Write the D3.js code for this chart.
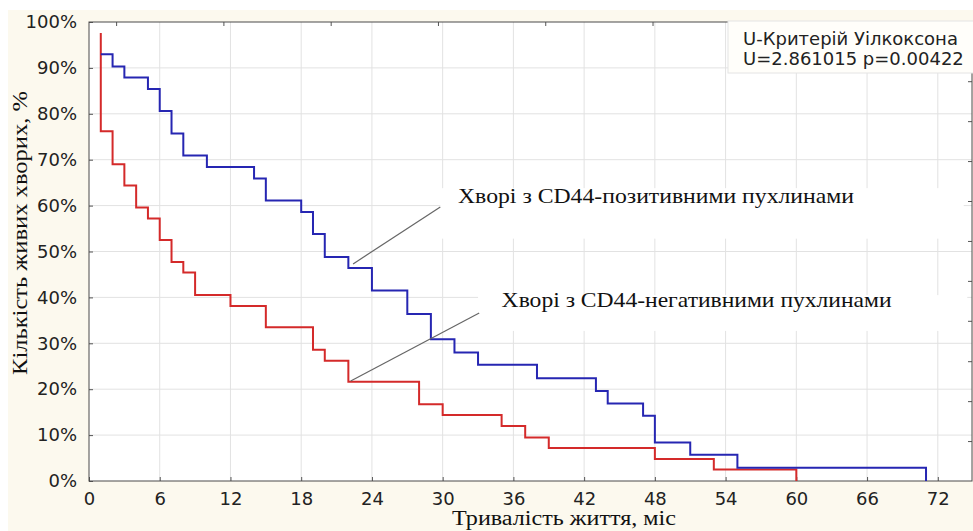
<!DOCTYPE html>
<html>
<head>
<meta charset="utf-8">
<script src="https://cdn.jsdelivr.net/npm/d3@7"></script>
<style>
  body { margin: 0; background: #ffffff; }
  svg { display: block; }
</style>
</head>
<body>
<div id="chart"></div>
<script>
// Kaplan-Meier style survival curves (months, % alive)
const posMonths = [1, 2, 3, 5, 6, 7, 8, 10, 14, 15, 18, 19, 20, 22, 24, 27, 29, 31, 33, 38, 43, 44, 47, 48, 51, 55, 71]
const posSurvival = [93.0, 90.3, 87.9, 85.4, 80.6, 75.7, 70.9, 68.4, 65.9, 61.1, 58.6, 53.8, 48.8, 46.4, 41.5, 36.4, 30.9, 28.0, 25.3, 22.4, 19.6, 16.9, 14.2, 8.4, 5.7, 2.9, 0]
const negMonths = [1, 1, 2, 3, 4, 5, 6, 7, 8, 9, 12, 15, 19, 20, 22, 28, 30, 35, 37, 39, 48, 53, 60]
const negSurvival = [97.6, 76.2, 69.0, 64.4, 59.6, 57.2, 52.5, 47.7, 45.4, 40.5, 38.1, 33.5, 28.6, 26.2, 21.6, 16.7, 14.4, 12.0, 9.5, 7.2, 4.8, 2.5, 0]

const xTicks = [0, 6, 12, 18, 24, 30, 36, 42, 48, 54, 60, 66, 72]
const yTicks = [0, 10, 20, 30, 40, 50, 60, 70, 80, 90, 100]
// unlabeled ticks of the secondary (top / right) axes
const topTicks = [2.3, 11.4, 20.5, 29.6, 38.7, 47.8, 56.8, 65.9]
const rightTicks = [8.7, 17.4, 26.1, 34.9, 43.6, 52.3, 61.0, 69.7, 78.4, 87.1]

const xTitle = 'Тривалість життя, міс'
const yTitle = 'Кількість живих хворих, %'
const statLines = ['U-Критерій Уілкоксона', 'U=2.861015 p=0.00422']
const posLabel = 'Хворі з CD44-позитивними пухлинами'
const negLabel = 'Хворі з CD44-негативними пухлинами'

const W = 973, H = 531
var margin = {top: 22, right: 1, bottom: 50, left: 89},
  width = W - margin.left - margin.right,
  height = H - margin.top - margin.bottom

var svg = d3.select('#chart').append('svg')
  .attr('width', W)
  .attr('height', H)

// cream page background
svg.append('rect')
  .attr('x', 8).attr('y', 10)
  .attr('width', W - 8).attr('height', H - 10)
  .attr('fill', '#fcf9ee')

var g = svg.append('g')
  .attr('transform', 'translate(' + margin.left + ',' + margin.top + ')')

var x = d3.scaleLinear().domain([0, 74.9]).range([0, width])
var y = d3.scaleLinear().domain([0, 100]).range([height, 0])

g.append('rect')
  .attr('width', width).attr('height', height)
  .attr('fill', '#ffffff')

// grid
g.append('g').selectAll('line')
  .data(xTicks.slice(1))
  .join('line')
  .attr('x1', d => x(d)).attr('x2', d => x(d))
  .attr('y1', 0).attr('y2', height)
  .attr('stroke', '#e2e2e2')
g.append('g').selectAll('line')
  .data(yTicks.slice(1, -1))
  .join('line')
  .attr('y1', d => y(d)).attr('y2', d => y(d))
  .attr('x1', 0).attr('x2', width)
  .attr('stroke', '#e2e2e2')

// annotation boxes hide the grid behind the labels
g.append('rect')
  .attr('x', x(29.8)).attr('y', y(63.8))
  .attr('width', x(74.2) - x(29.8)).attr('height', y(52.8) - y(63.8))
  .attr('fill', '#ffffff')
g.append('rect')
  .attr('x', x(33.0)).attr('y', y(40.5))
  .attr('width', x(74.5) - x(33.0)).attr('height', y(32.7) - y(40.5))
  .attr('fill', '#ffffff')

// axes
var xAxis = d3.axisBottom(x).tickValues(xTicks).tickSize(-4).tickPadding(11)
var yAxis = d3.axisLeft(y).tickValues(yTicks).tickSize(-4).tickPadding(12)
  .tickFormat(d => d + '%')

g.append('g')
  .attr('transform', 'translate(0,' + height + ')')
  .call(xAxis)
g.append('g').call(yAxis)

g.append('g').call(d3.axisTop(x).tickValues(topTicks).tickSize(-4).tickFormat(''))
g.append('g').attr('transform', 'translate(' + width + ',0)')
  .call(d3.axisRight(y).tickValues(rightTicks).tickSize(-4).tickFormat(''))

g.selectAll('.domain').remove()
g.selectAll('.tick line').attr('stroke', '#555')
g.selectAll('.tick text')
  .attr('font-family', 'DejaVu Sans, sans-serif')
  .attr('font-size', 18)
  .attr('fill', '#222')

g.append('rect')
  .attr('width', width).attr('height', height)
  .attr('fill', 'none')
  .attr('stroke', '#4a4a4a')

// survival step lines
var line = d3.line()
  .curve(d3.curveStepAfter)
  .x(d => x(d[0]))
  .y(d => y(d[1]))

g.append('path')
  .attr('d', line(d3.zip(negMonths, negSurvival)))
  .attr('fill', 'none')
  .attr('stroke', '#d42a2a')
  .attr('stroke-width', 2)
g.append('path')
  .attr('d', line(d3.zip(posMonths, posSurvival)))
  .attr('fill', 'none')
  .attr('stroke', '#2626b2')
  .attr('stroke-width', 2)

// leader lines + labels
g.append('line')
  .attr('x1', x(22.4)).attr('y1', y(47.3))
  .attr('x2', x(29.8)).attr('y2', y(59.7))
  .attr('stroke', '#666').attr('stroke-width', 1.2)
g.append('line')
  .attr('x1', x(22.2)).attr('y1', y(21.8))
  .attr('x2', x(33.1)).attr('y2', y(36.6))
  .attr('stroke', '#666').attr('stroke-width', 1.2)

g.append('text')
  .attr('x', x(31.3)).attr('y', y(60.6))
  .attr('font-family', 'Liberation Serif, serif')
  .attr('font-size', 22)
  .attr('textLength', 396)
  .attr('lengthAdjust', 'spacingAndGlyphs')
  .attr('fill', '#111')
  .text(posLabel)
g.append('text')
  .attr('x', x(35.0)).attr('y', y(38.0))
  .attr('font-family', 'Liberation Serif, serif')
  .attr('font-size', 22)
  .attr('textLength', 390)
  .attr('lengthAdjust', 'spacingAndGlyphs')
  .attr('fill', '#111')
  .text(negLabel)

// statistics box
var box = svg.append('g')
box.append('rect')
  .attr('x', 728).attr('y', 21)
  .attr('width', 250).attr('height', 52)
  .attr('fill', '#fffefa')
  .attr('stroke', '#e4e4e4')
box.selectAll('text')
  .data(statLines)
  .join('text')
  .attr('x', 743)
  .attr('y', (d, i) => 45 + i * 20)
  .attr('font-family', 'DejaVu Sans, sans-serif')
  .attr('font-size', 18)
  .attr('fill', '#222')
  .text(d => d)

// axis titles
svg.append('text')
  .attr('x', 564).attr('y', 525)
  .attr('text-anchor', 'middle')
  .attr('font-family', 'Liberation Serif, serif')
  .attr('font-size', 20)
  .attr('textLength', 224)
  .attr('lengthAdjust', 'spacingAndGlyphs')
  .attr('fill', '#111')
  .text(xTitle)
svg.append('text')
  .attr('transform', 'translate(27,233) rotate(-90)')
  .attr('text-anchor', 'middle')
  .attr('font-family', 'Liberation Serif, serif')
  .attr('font-size', 21)
  .attr('textLength', 284)
  .attr('lengthAdjust', 'spacingAndGlyphs')
  .attr('fill', '#111')
  .text(yTitle)
</script>
</body>
</html>
